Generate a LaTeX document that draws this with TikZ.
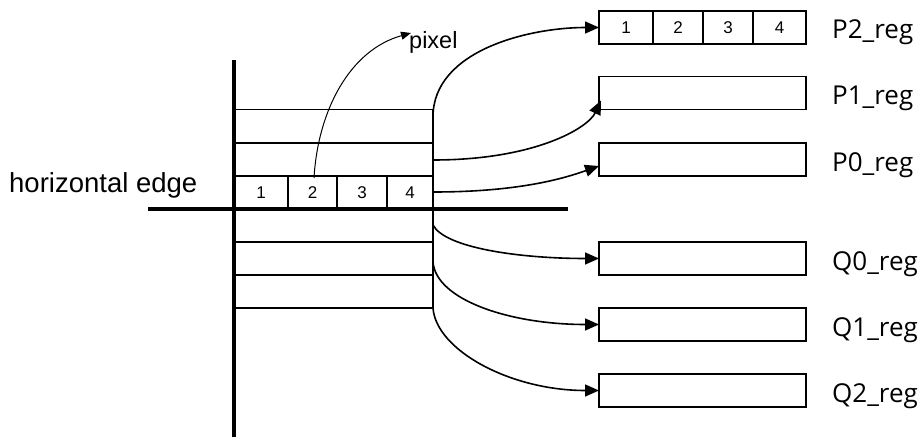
\documentclass[tikz,border=0pt]{standalone}
\usepackage{fontspec}
\setmainfont{Liberation Sans}
\newfontfamily\labfont{Open Sans}
\usetikzlibrary{arrows.meta,calc}
\tikzset{
  cellbox/.style={draw, line width=1.3pt, minimum height=33pt, inner sep=0pt, outer sep=0pt, font=\fontsize{17}{17}\selectfont},
  rowbox/.style={cellbox, minimum width=199pt},
  regbox/.style={cellbox, minimum width=207pt},
  thickline/.style={line width=4.6pt},
  conn/.style={line width=1.6pt, -{Triangle[length=14pt,width=12pt]}},
  thinconn/.style={line width=1pt, -{Triangle[length=10pt,width=8pt]}},
  reglabel/.style={anchor=base west, inner sep=0pt, font=\labfont\fontsize{26}{26}\selectfont},
}
\begin{document}
\begin{tikzpicture}[x=1pt,y=-1pt]
\useasboundingbox (0,0) rectangle (919,439);
% left stack
\node[rowbox] (r1) at (333.5,126) {};
\node[rowbox] (r2) at (333.5,159.5) {};
\node[cellbox, minimum width=54pt] (c1) at (261,192.5) {1};
\node[cellbox, minimum width=49pt] (c2) at (312.5,192.5) {2};
\node[cellbox, minimum width=50pt] (c3) at (362,192.5) {3};
\node[cellbox, minimum width=46pt] (c4) at (410,192.5) {4};
\node[rowbox] (r5) at (333.5,225.5) {};
\node[rowbox] (r6) at (333.5,258.5) {};
\node[rowbox] (r7) at (333.5,291.5) {};
% thick axes
\coordinate (vt) at (234,60);
\coordinate (vb) at (234,437);
\coordinate (hl) at (148,209);
\coordinate (hr) at (568,209);
\draw[thickline] (vt) -- (vb);
\draw[thickline] (hl) -- (hr);
% registers
\node[cellbox, minimum width=54pt] (p21) at (626,27.5) {1};
\node[cellbox, minimum width=50pt] (p22) at (678,27.5) {2};
\node[cellbox, minimum width=50pt] (p23) at (728,27.5) {3};
\node[cellbox, minimum width=53pt] (p24) at (779.5,27.5) {4};
\node[regbox] (P1) at (702.5,93) {};
\node[regbox] (P0) at (702.5,159.5) {};
\node[regbox] (Q0) at (702.5,258.5) {};
\node[regbox] (Q1) at (702.5,324.5) {};
\node[regbox] (Q2) at (702.5,390.5) {};
% labels
\node[reglabel] (lP2) at (832,38) {P2\_reg};
\node[reglabel] (lP1) at (832,104) {P1\_reg};
\node[reglabel] (lP0) at (832,171) {P0\_reg};
\node[reglabel] (lQ0) at (832,270) {Q0\_reg};
\node[reglabel] (lQ1) at (832,336) {Q1\_reg};
\node[reglabel] (lQ2) at (832,402) {Q2\_reg};
\node[anchor=base west, inner sep=0pt, font=\fontsize{27.5}{27.5}\selectfont] (he) at (9,192) {horizontal edge};
\node[anchor=base west, inner sep=0pt, font=\fontsize{23.5}{23.5}\selectfont] (px) at (409,48) {pixel};
% connector start points
\coordinate (sP2) at (433,117);
\coordinate (sP1) at (433,160);
\coordinate (sP0) at (433,192);
\coordinate (sQ0) at (433,225);
\coordinate (sQ1) at (433,262);
\coordinate (sQ2) at (433,308);
\coordinate (sPx) at (314,178);
\coordinate (ePx) at (411,33);
% connectors
\draw[conn] (sP2) .. controls (433,50) and (530,27.5) .. (p21.west);
\draw[conn] (sP1) .. controls (535,160) and (588,128) .. ($(P1.south west)+(2,-9)$);
\draw[conn] (sP0) .. controls (520,192) and (565,178) .. ($(P0.south west)+(0,-10)$);
\draw[conn] (sQ0) .. controls (445,248) and (520,258.5) .. (Q0.west);
\draw[conn] (sQ1) .. controls (436,300) and (510,324.5) .. (Q1.west);
\draw[conn] (sQ2) .. controls (436,350) and (510,390.5) .. (Q2.west);
\draw[thinconn] (sPx) .. controls (318,110) and (350,50) .. (ePx);
\end{tikzpicture}
\end{document}
